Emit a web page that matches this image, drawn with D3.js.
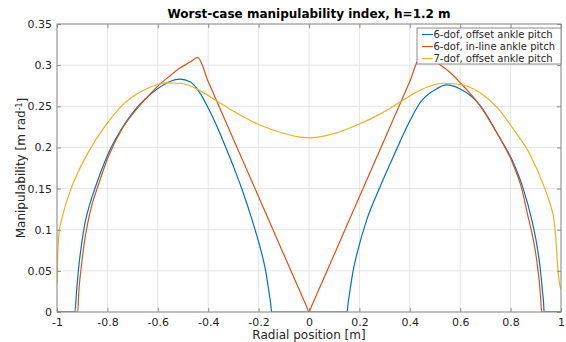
<!DOCTYPE html>
<html>
<head>
<meta charset="utf-8">
<script src="https://cdn.jsdelivr.net/npm/d3@7"></script>
<style>
  body { margin: 0; background: #fff; }
  text { font-family: "DejaVu Sans", sans-serif; fill: #262626; }
</style>
</head>
<body>
<div id="chart"></div>
<script>
var svgWidth = 566;
var svgHeight = 342;
var margin = { top: 24, right: 5, bottom: 30, left: 57 };
var width = svgWidth - margin.left - margin.right;
var height = svgHeight - margin.top - margin.bottom;

// data
var seriesNames = ["6-dof, offset ankle pitch", "6-dof, in-line ankle pitch", "7-dof, offset ankle pitch"];
var seriesColors = ["#0072bd", "#d95319", "#edb120"];

var offsetX = [-1, -0.929, -0.922, -0.915, -0.902, -0.889, -0.869, -0.852, -0.796, -0.743, -0.70, -0.651, -0.60, -0.56, -0.512, -0.47, -0.4325, -0.40, -0.366, -0.333, -0.30, -0.267, -0.226, -0.19, -0.172, -0.16, -0.152, -0.148, 0, 0.151, 0.155, 0.163, 0.175, 0.193, 0.229, 0.279, 0.335, 0.40, 0.44, 0.50, 0.546, 0.60, 0.679, 0.745, 0.817, 0.850, 0.884, 0.905, 0.918, 0.926, 0.931, 0.933, 1];
var offsetY = [0, 0, 0.027, 0.051, 0.0835, 0.108, 0.132, 0.148, 0.193, 0.223, 0.242, 0.2585, 0.2715, 0.279, 0.283, 0.2795, 0.266, 0.248, 0.226, 0.202, 0.177, 0.150, 0.112, 0.074, 0.05, 0.027, 0.01, 0, 0, 0, 0.01, 0.027, 0.05, 0.074, 0.112, 0.150, 0.189, 0.232, 0.254, 0.270, 0.276, 0.271, 0.251, 0.218, 0.177, 0.150, 0.112, 0.08, 0.052, 0.027, 0.01, 0, 0];

var inlineX = [-1, -0.918, -0.913, -0.905, -0.892, -0.878, -0.86, -0.843, -0.80, -0.743, -0.70, -0.651, -0.60, -0.55, -0.512, -0.47, -0.442, -0.40, -0.30, -0.20, -0.10, -0.01, 0, 0.01, 0.10, 0.20, 0.30, 0.40, 0.443, 0.47, 0.513, 0.56, 0.599, 0.679, 0.745, 0.8107, 0.844, 0.870, 0.890, 0.905, 0.914, 0.92, 0.923, 1];
var inlineY = [0, 0, 0.027, 0.051, 0.0835, 0.108, 0.132, 0.148, 0.186, 0.222, 0.2405, 0.258, 0.2745, 0.2875, 0.2965, 0.304, 0.3095, 0.280, 0.210, 0.140, 0.070, 0.007, 0, 0.007, 0.070, 0.140, 0.210, 0.280, 0.310, 0.3085, 0.302, 0.291, 0.279, 0.2505, 0.218, 0.179, 0.150, 0.115, 0.088, 0.060, 0.036, 0.014, 0, 0];

var sevenX = [-1, -0.998, -0.995, -0.99, -0.981, -0.968, -0.945, -0.91, -0.876, -0.81, -0.743, -0.70, -0.651, -0.60, -0.565, -0.512, -0.4325, -0.366, -0.30, -0.234, -0.197, -0.115, -0.036, 0, 0.0833, 0.2, 0.2817, 0.368, 0.44, 0.533, 0.60, 0.679, 0.75, 0.807, 0.877, 0.937, 0.96, 0.972, 0.980, 0.985, 0.990, 0.995, 1];
var sevenY = [0.033, 0.06, 0.085, 0.100, 0.113, 0.128, 0.149, 0.174, 0.194, 0.2255, 0.2505, 0.2615, 0.2705, 0.2765, 0.2785, 0.278, 0.269, 0.2565, 0.244, 0.233, 0.2275, 0.2185, 0.2125, 0.2115, 0.2155, 0.2285, 0.2405, 0.2565, 0.2695, 0.278, 0.2765, 0.2665, 0.2475, 0.224, 0.1915, 0.149, 0.128, 0.112, 0.0875, 0.063, 0.045, 0.033, 0.027];

var xTicks = [-1, -0.8, -0.6, -0.4, -0.2, 0, 0.2, 0.4, 0.6, 0.8, 1];
var yTicks = [0, 0.05, 0.1, 0.15, 0.2, 0.25, 0.3, 0.35];

function zip(xs, ys) {
  return xs.map(function(x, i) { return [x, ys[i]]; });
}
var series = [zip(offsetX, offsetY), zip(inlineX, inlineY), zip(sevenX, sevenY)];

var svg = d3.select("#chart")
  .append("svg")
  .attr("width", svgWidth)
  .attr("height", svgHeight);

var chart = svg.append("g")
  .attr("transform", "translate(" + margin.left + "," + margin.top + ")");

var xScale = d3.scaleLinear().domain([-1, 1]).range([0, width]);
var yScale = d3.scaleLinear().domain([0, 0.35]).range([height, 0]);

// grid
chart.append("g")
  .selectAll("line")
  .data(xTicks)
  .enter()
  .append("line")
  .attr("x1", function(d) { return xScale(d); })
  .attr("x2", function(d) { return xScale(d); })
  .attr("y1", 0)
  .attr("y2", height)
  .attr("stroke", "#e6e6e6");

chart.append("g")
  .selectAll("line")
  .data(yTicks)
  .enter()
  .append("line")
  .attr("y1", function(d) { return yScale(d); })
  .attr("y2", function(d) { return yScale(d); })
  .attr("x1", 0)
  .attr("x2", width)
  .attr("stroke", "#e6e6e6");

// curves
chart.append("clipPath").attr("id", "clip")
  .append("rect").attr("width", width).attr("height", height + 1).attr("y", -1);

var line = d3.line()
  .x(function(d) { return xScale(d[0]); })
  .y(function(d) { return yScale(d[1]); })
  .curve(d3.curveMonotoneX);

chart.append("g")
  .attr("clip-path", "url(#clip)")
  .selectAll("path")
  .data(series)
  .enter()
  .append("path")
  .attr("d", line)
  .attr("fill", "none")
  .attr("stroke", function(d, i) { return seriesColors[i]; })
  .attr("stroke-width", 1.2);

// axes, ticks inside on all four sides
function styleAxis(g) {
  g.select(".domain").remove();
  g.selectAll(".tick line").attr("stroke", "#8c8c8c");
  g.selectAll(".tick text").style("font-size", "11px").style("fill", "#262626");
}

var fmt = function(d) { return String(+d.toFixed(2)); };

chart.append("g")
  .attr("transform", "translate(0," + height + ")")
  .call(d3.axisBottom(xScale).tickValues(xTicks).tickFormat(fmt).tickSizeInner(-4).tickPadding(6))
  .call(styleAxis);

chart.append("g")
  .call(d3.axisLeft(yScale).tickValues(yTicks).tickFormat(fmt).tickSizeInner(-4).tickPadding(5))
  .call(styleAxis);

chart.append("g")
  .call(d3.axisTop(xScale).tickValues(xTicks).tickFormat("").tickSizeInner(-4))
  .call(styleAxis);

chart.append("g")
  .attr("transform", "translate(" + width + ",0)")
  .call(d3.axisRight(yScale).tickValues(yTicks).tickFormat("").tickSizeInner(-4))
  .call(styleAxis);

chart.append("rect")
  .attr("width", width)
  .attr("height", height)
  .attr("fill", "none")
  .attr("stroke", "#8c8c8c");

// title and labels
chart.append("text")
  .attr("x", width / 2)
  .attr("y", -6)
  .attr("text-anchor", "middle")
  .style("font-size", "12px")
  .style("font-weight", "bold")
  .style("fill", "#000")
  .text("Worst-case manipulability index, h=1.2 m");

chart.append("text")
  .attr("x", width / 2)
  .attr("y", height + 27)
  .attr("text-anchor", "middle")
  .style("font-size", "12px")
  .text("Radial position [m]");

var yLabel = chart.append("text")
  .attr("transform", "translate(" + (-32) + "," + (height / 2) + ") rotate(-90)")
  .attr("text-anchor", "middle")
  .style("font-size", "12px");
yLabel.append("tspan").text("Manipulability [m rad");
yLabel.append("tspan").attr("dy", "-0.4em").style("font-size", "8px").text("-1");
yLabel.append("tspan").attr("dy", "0.4em").text("]");

// legend
var legend = chart.append("g")
  .attr("transform", "translate(" + (width - 144) + ",4)");

legend.append("rect")
  .attr("width", 144)
  .attr("height", 36)
  .attr("fill", "#fff")
  .attr("stroke", "#8c8c8c");

var entries = legend.selectAll("g.entry")
  .data(seriesNames)
  .enter()
  .append("g")
  .attr("class", "entry")
  .attr("transform", function(d, i) { return "translate(0," + (6.5 + i * 12) + ")"; });

entries.append("line")
  .attr("x1", 5)
  .attr("x2", 16)
  .attr("stroke", function(d, i) { return seriesColors[i]; })
  .attr("stroke-width", 1.2);

entries.append("text")
  .attr("x", 16.5)
  .attr("dy", "0.35em")
  .style("font-size", "10px")
  .text(function(d) { return d; });
</script>
</body>
</html>
